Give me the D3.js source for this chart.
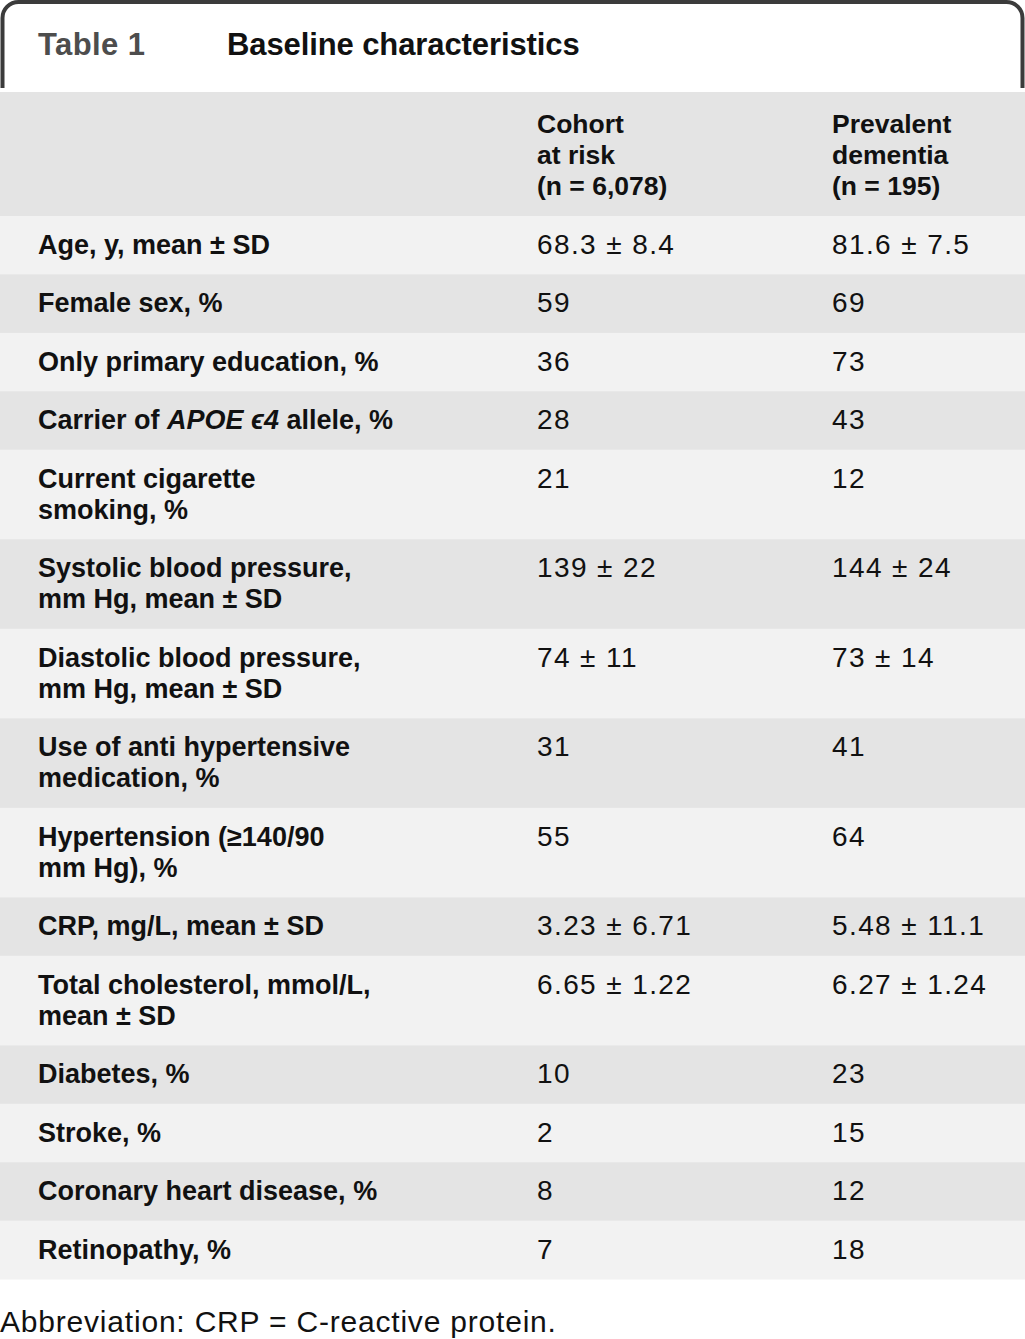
<!DOCTYPE html>
<html><head><meta charset="utf-8">
<script src="https://cdn.jsdelivr.net/npm/d3@7"></script>
<style>
html,body{margin:0;padding:0;background:#fff;}
svg{display:block;}
</style></head>
<body>
<script>
// ---- data ----
const tableNumber = "Table 1";
const tableTitle = "Baseline characteristics";
const columnHeaders = [
  ["Cohort", "at risk", "(n = 6,078)"],
  ["Prevalent", "dementia", "(n = 195)"]
];
const rowLabels = [
  ["Age, y, mean ± SD"],
  ["Female sex, %"],
  ["Only primary education, %"],
  ["Carrier of *APOE ϵ4* allele, %"],
  ["Current cigarette", "smoking, %"],
  ["Systolic blood pressure,", "mm Hg, mean ± SD"],
  ["Diastolic blood pressure,", "mm Hg, mean ± SD"],
  ["Use of anti hypertensive", "medication, %"],
  ["Hypertension (≥140/90", "mm Hg), %"],
  ["CRP, mg/L, mean ± SD"],
  ["Total cholesterol, mmol/L,", "mean ± SD"],
  ["Diabetes, %"],
  ["Stroke, %"],
  ["Coronary heart disease, %"],
  ["Retinopathy, %"]
];
const cohortValues = ["68.3 ± 8.4","59","36","28","21","139 ± 22","74 ± 11","31","55","3.23 ± 6.71","6.65 ± 1.22","10","2","8","7"];
const dementiaValues = ["81.6 ± 7.5","69","73","43","12","144 ± 24","73 ± 14","41","64","5.48 ± 11.1","6.27 ± 1.24","23","15","12","18"];
const footnote = "Abbreviation: CRP = C-reactive protein.";

// ---- layout ----
const W = 1025, H = 1339;
const svg = d3.select("body").append("svg").attr("width", W).attr("height", H);
const labelFont = "'Liberation Sans', Arial, sans-serif";
const lineH = 31.1, padH = 27.33;
const headerTop = 92, headerH = 124;
const colX = d3.scaleOrdinal().domain(["label","cohort","dementia"]).range([38, 537, 832]);

// frame
const r = 16, x0 = 2.5, x1 = 1022.5, y0 = 2, yb = 88;
svg.append("path")
  .attr("d", `M${x0},${yb} V${y0+r} A${r},${r} 0 0 1 ${x0+r},${y0} H${x1-r} A${r},${r} 0 0 1 ${x1},${y0+r} V${yb}`)
  .attr("fill","none").attr("stroke","#3b3b3b").attr("stroke-width",4);

// title
svg.append("text").attr("x",38).attr("y",55).attr("font-family",labelFont).attr("font-weight","bold")
  .attr("font-size",31).attr("fill","#4d4d4d").attr("letter-spacing",0.4).text(tableNumber);
svg.append("text").attr("x",227).attr("y",55).attr("font-family",labelFont).attr("font-weight","bold")
  .attr("font-size",31).attr("fill","#111").attr("letter-spacing",-0.1).text(tableTitle);

// header band
svg.append("rect").attr("x",0).attr("y",headerTop).attr("width",W).attr("height",headerH).attr("fill","#e4e4e4");
columnHeaders.forEach((lines,i)=>{
  const t = svg.append("text").attr("font-family",labelFont).attr("font-weight","bold").attr("font-size",26.5).attr("fill","#111");
  lines.forEach((l,j)=>{
    t.append("tspan").attr("x",colX(i===0?"cohort":"dementia")).attr("y",headerTop+41+j*lineH).text(l);
  });
});

// rows
const rows = rowLabels.map((lab,i)=>({lab, c:cohortValues[i], d:dementiaValues[i], h: padH + lab.length*lineH}));
let yAcc = headerTop + headerH;
rows.forEach((d,i)=>{ d.y = yAcc; yAcc += d.h; d.i = i; });

const g = svg.selectAll("g.row").data(rows).join("g").attr("class","row")
  .attr("transform", d=>`translate(0,${d.y})`);
g.append("rect").attr("x",0).attr("y",0).attr("width",W).attr("height",d=>d.h+0.5)
  .attr("fill", d=> d.i%2===0 ? "#f2f2f2" : "#e4e4e4");

g.each(function(d){
  const sel = d3.select(this);
  const t = sel.append("text").attr("font-family",labelFont).attr("font-weight","bold").attr("font-size",27).attr("fill","#111");
  d.lab.forEach((line,j)=>{
    const ts = t.append("tspan").attr("x",colX("label")).attr("y",38+j*lineH);
    const parts = line.split("*");
    parts.forEach((p,k)=>{
      if(!p) return;
      const s = ts.append("tspan").text(p);
      if(k%2===1) s.attr("font-style","italic");
    });
  });
  [["cohort",d.c],["dementia",d.d]].forEach(([k,v])=>{
    sel.append("text").attr("x",colX(k)).attr("y",38).attr("font-family",labelFont)
      .attr("font-size",28).attr("fill","#111").attr("letter-spacing",1.4).text(v);
  });
});

// footnote
svg.append("text").attr("x",0).attr("y",1332).attr("font-family",labelFont).attr("font-size",30)
  .attr("fill","#111").attr("letter-spacing",0.8).text(footnote);
</script>
</body></html>
